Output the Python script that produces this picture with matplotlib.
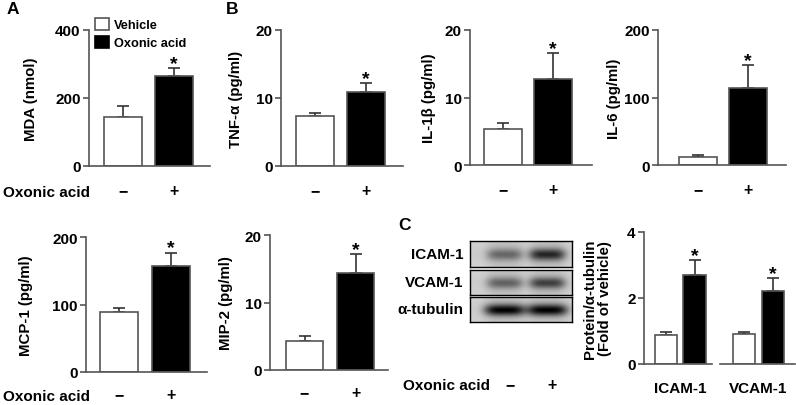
import numpy as np
import matplotlib
matplotlib.use("Agg")
import matplotlib.pyplot as plt
from matplotlib.patches import Patch

plt.rcParams['font.family'] = ['Liberation Sans', 'DejaVu Sans']
plt.rcParams['font.weight'] = 'bold'
plt.rcParams['axes.labelweight'] = 'bold'

# --- data (vehicle, oxonic acid) ---
groups = ['Vehicle', 'Oxonic acid']
treat_labels = ['\u2212', '+']

mda = [144, 266]
mda_err = [33, 22]
tnf = [7.35, 10.9]
tnf_err = [0.5, 1.3]
il1b = [5.3, 12.8]
il1b_err = [0.9, 3.8]
il6 = [12, 114]
il6_err = [3, 34]
mcp1 = [89, 157]
mcp1_err = [6, 20]
mip2 = [4.3, 14.3]
mip2_err = [0.7, 2.9]

proteins = ['ICAM-1', 'VCAM-1']
ratio_vehicle = [0.88, 0.92]
ratio_vehicle_err = [0.09, 0.06]
ratio_oxonic = [2.7, 2.2]
ratio_oxonic_err = [0.45, 0.4]

blot_rows = ['ICAM-1', 'VCAM-1', '\u03b1-tubulin']
band_density = [[0.34, 0.6], [0.36, 0.5], [0.74, 0.74]]

W, H = 796, 406
fig = plt.figure(figsize=(W / 100, H / 100), dpi=100)

GRAY = '#555555'
ERR = '#333333'


def add_ax(l, r, t, b):
    return fig.add_axes([l / W, 1 - b / H, (r - l) / W, (b - t) / H])


def style(ax, yticks, xpad):
    for s in ['top', 'right']:
        ax.spines[s].set_visible(False)
    for s in ['left', 'bottom']:
        ax.spines[s].set_color(GRAY)
        ax.spines[s].set_linewidth(1.2)
    ax.set_ylim(yticks[0], yticks[-1])
    ax.set_yticks(yticks)
    ax.tick_params(axis='y', length=4, width=1.2, color=GRAY, labelsize=11, pad=2)
    ax.tick_params(axis='x', length=0, labelsize=11.5, pad=xpad)


def bars(ax, vals, errs, width):
    ax.errorbar([0, 1], vals, yerr=[[0, 0], errs], fmt='none', ecolor=ERR,
                elinewidth=1.2, capsize=4, capthick=1.2, zorder=1)
    ax.bar([0, 1], vals, width=width, color=['white', 'black'],
           edgecolor=GRAY, linewidth=1.2, zorder=2)
    top = vals[1] + errs[1]
    ax.annotate('*', (1, top), xytext=(0, 0), textcoords='offset pixels',
                ha='center', va='baseline', fontsize=14, annotation_clip=False)


def panel(box, centers, bw, vals, errs, yticks, ylabel, label_x, xpad):
    l, r, t, b = box
    c0, c1 = centers
    s = c1 - c0
    ax = add_ax(l, r, t, b)
    ax.set_xlim((l - c0) / s, 1 + (r - c1) / s)
    bars(ax, vals, errs, bw / s)
    style(ax, yticks, xpad)
    ax.set_xticks([0, 1], treat_labels)
    ax.set_ylabel(ylabel, fontsize=10.8)
    ax.yaxis.set_label_coords((label_x - l) / (r - l), 0.5)
    return ax


panel((89, 210, 31, 167), (123, 174), 38, mda, mda_err, [0, 200, 400], 'MDA (nmol)', 38, 12)
panel((281, 403, 31, 167), (315, 366), 38, tnf, tnf_err, [0, 10, 20], 'TNF-\u03b1 (pg/ml)', 243, 12)
panel((470, 592, 31, 166), (503, 553), 38, il1b, il1b_err, [0, 10, 20], 'IL-1\u03b2 (pg/ml)', 436, 12)
panel((658, 786, 31, 166), (698, 748), 38, il6, il6_err, [0, 100, 200], 'IL-6 (pg/ml)', 621, 12)
panel((86, 207, 238, 373), (119, 171), 38, mcp1, mcp1_err, [0, 100, 200], 'MCP-1 (pg/ml)', 33, 11)
panel((270, 388, 236, 371), (304.5, 355.5), 37, mip2, mip2_err, [0, 10, 20], 'MIP-2 (pg/ml)', 233, 11)

# legend in panel A
handles = [Patch(facecolor='white', edgecolor=GRAY, linewidth=1.2),
           Patch(facecolor='black', edgecolor='black', linewidth=1.2)]
fig.legend(handles, groups, loc='upper left', bbox_to_anchor=(95 / W, 1 - 19 / H),
           frameon=False, fontsize=9.2, handlelength=1.1, handleheight=1.1,
           handletextpad=0.4, labelspacing=0.33, borderpad=0, borderaxespad=0)

# western blot
blot_boxes = [(242, 268), (271, 296), (298, 323)]
for name, (t, b), dens in zip(blot_rows, blot_boxes, band_density):
    ax = add_ax(470, 572, t, b)
    nx, ny = 102, b - t
    xx, yy = np.meshgrid(np.linspace(0, 1, nx), np.linspace(0, 1, ny))
    img = np.full((ny, nx), 0.84) - 0.04 * np.exp(-((yy - 0.5) / 0.6) ** 2)
    for xc, d in zip([0.34, 0.76], dens):
        sx = 0.18 if name != '\u03b1-tubulin' else 0.2
        img -= d * np.exp(-((xx - xc) / sx) ** 4) * np.exp(-((yy - 0.52) / 0.24) ** 2)
        img -= 0.06 * np.exp(-((xx - xc) / sx) ** 4)
    ax.imshow(np.clip(img, 0, 1), cmap='gray', vmin=0, vmax=1, aspect='auto',
              interpolation='bilinear')
    ax.set_xticks([])
    ax.set_yticks([])
    for s in ax.spines.values():
        s.set_linewidth(1.0)
    fig.text(463 / W, 1 - (t + b) / 2 / H, name, ha='right', va='center', fontsize=11)

# quantification of blot
for i, (l, r, c0, c1) in enumerate([(644, 712, 666, 694.5), (720, 795, 744, 773)]):
    s = c1 - c0
    ax = add_ax(l, r, 233, 365)
    ax.set_xlim((l - c0) / s, 1 + (r - c1) / s)
    bars(ax, [ratio_vehicle[i], ratio_oxonic[i]], [ratio_vehicle_err[i], ratio_oxonic_err[i]], 22.5 / s)
    style(ax, [0, 2, 4], 12)
    ax.set_xticks([0.5], [proteins[i]])
    ax.tick_params(axis='x', labelsize=11)
    if i == 0:
        ax.set_ylabel('Protein/\u03b1-tubulin\n(Fold of vehicle)', fontsize=10.8, linespacing=1.1)
        ax.yaxis.set_label_coords((612 - l) / (r - l), 0.5)
    else:
        ax.spines['left'].set_visible(False)
        ax.set_yticks([])

# row labels and panel letters
fig.text(3 / W, 1 - 193 / H, 'Oxonic acid', ha='left', va='center', fontsize=11)
fig.text(3 / W, 1 - 397 / H, 'Oxonic acid', ha='left', va='center', fontsize=11)
fig.text(403 / W, 1 - 386 / H, 'Oxonic acid', ha='left', va='center', fontsize=11)
fig.text(510 / W, 1 - 386 / H, treat_labels[0], ha='center', va='center', fontsize=11.5)
fig.text(552 / W, 1 - 386 / H, treat_labels[1], ha='center', va='center', fontsize=11.5)

fig.text(7 / W, 1 - 9 / H, 'A', ha='left', va='center', fontsize=12.5)
fig.text(226 / W, 1 - 9 / H, 'B', ha='left', va='center', fontsize=12.5)
fig.text(398 / W, 1 - 225 / H, 'C', ha='left', va='center', fontsize=12.5)

fig.savefig('out.png', dpi=100)
